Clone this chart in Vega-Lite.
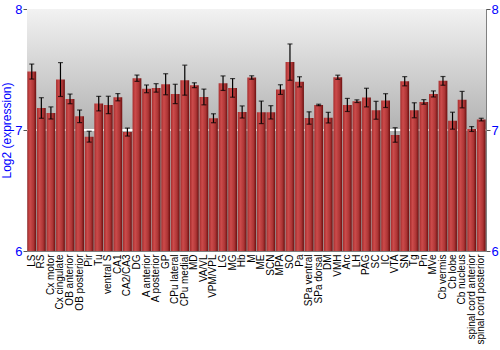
{
  "$schema": "https://vega.github.io/schema/vega-lite/v6.json",
  "autosize": "none",
  "width": 459,
  "height": 242,
  "padding": {"left": 27, "top": 9, "right": 14, "bottom": 99},
  "config": {
    "view": {"stroke": "#808080", "strokeWidth": 1},
    "font": "Liberation Sans"
  },
  "data": {
    "values": [
      {"region": "LS", "value": 7.483, "lo": 7.421, "hi": 7.545},
      {"region": "RS", "value": 7.182, "lo": 7.097, "hi": 7.267},
      {"region": "Cx motor", "value": 7.141, "lo": 7.091, "hi": 7.191},
      {"region": "Cx cingulate", "value": 7.417, "lo": 7.277, "hi": 7.557},
      {"region": "OB anterior", "value": 7.257, "lo": 7.217, "hi": 7.297},
      {"region": "OB posterior", "value": 7.113, "lo": 7.061, "hi": 7.165},
      {"region": "Pir", "value": 6.945, "lo": 6.9, "hi": 6.99},
      {"region": "Tu", "value": 7.218, "lo": 7.158, "hi": 7.278},
      {"region": "ventral S", "value": 7.207, "lo": 7.135, "hi": 7.279},
      {"region": "CA1", "value": 7.271, "lo": 7.241, "hi": 7.301},
      {"region": "CA2/CA3", "value": 6.983, "lo": 6.95, "hi": 7.016},
      {"region": "DG", "value": 7.428, "lo": 7.402, "hi": 7.454},
      {"region": "A anterior", "value": 7.34, "lo": 7.308, "hi": 7.372},
      {"region": "A posterior", "value": 7.348, "lo": 7.313, "hi": 7.383},
      {"region": "GP", "value": 7.378, "lo": 7.291, "hi": 7.465},
      {"region": "CPu lateral", "value": 7.298, "lo": 7.218, "hi": 7.378},
      {"region": "CPu medial", "value": 7.412, "lo": 7.288, "hi": 7.536},
      {"region": "MD", "value": 7.37, "lo": 7.35, "hi": 7.39},
      {"region": "VA/VL", "value": 7.273, "lo": 7.208, "hi": 7.338},
      {"region": "VPM/VPL", "value": 7.097, "lo": 7.06, "hi": 7.134},
      {"region": "LG", "value": 7.387, "lo": 7.327, "hi": 7.447},
      {"region": "MG", "value": 7.348, "lo": 7.271, "hi": 7.425},
      {"region": "Hb", "value": 7.149, "lo": 7.099, "hi": 7.199},
      {"region": "M", "value": 7.434, "lo": 7.42, "hi": 7.448},
      {"region": "ME", "value": 7.146, "lo": 7.053, "hi": 7.239},
      {"region": "SCN", "value": 7.146, "lo": 7.091, "hi": 7.201},
      {"region": "MPA", "value": 7.334, "lo": 7.294, "hi": 7.374},
      {"region": "SO", "value": 7.561, "lo": 7.411, "hi": 7.711},
      {"region": "Pa", "value": 7.398, "lo": 7.356, "hi": 7.44},
      {"region": "SPa ventral", "value": 7.099, "lo": 7.048, "hi": 7.15},
      {"region": "SPa dorsal", "value": 7.207, "lo": 7.201, "hi": 7.213},
      {"region": "DM", "value": 7.102, "lo": 7.058, "hi": 7.146},
      {"region": "VMH", "value": 7.436, "lo": 7.419, "hi": 7.453},
      {"region": "Arc", "value": 7.207, "lo": 7.153, "hi": 7.261},
      {"region": "LH", "value": 7.238, "lo": 7.227, "hi": 7.249},
      {"region": "PAG", "value": 7.268, "lo": 7.191, "hi": 7.345},
      {"region": "SC", "value": 7.163, "lo": 7.089, "hi": 7.237},
      {"region": "IC", "value": 7.243, "lo": 7.186, "hi": 7.3},
      {"region": "VTA", "value": 6.959, "lo": 6.899, "hi": 7.019},
      {"region": "SN", "value": 7.403, "lo": 7.365, "hi": 7.441},
      {"region": "Tg", "value": 7.163, "lo": 7.101, "hi": 7.225},
      {"region": "Pn", "value": 7.232, "lo": 7.213, "hi": 7.251},
      {"region": "MVe", "value": 7.298, "lo": 7.273, "hi": 7.323},
      {"region": "Cb vermis", "value": 7.406, "lo": 7.37, "hi": 7.442},
      {"region": "Cb lobe", "value": 7.077, "lo": 7.007, "hi": 7.147},
      {"region": "Cb nucleus", "value": 7.251, "lo": 7.183, "hi": 7.319},
      {"region": "spinal cord anterior", "value": 7.008, "lo": 6.988, "hi": 7.028},
      {"region": "spinal cord posterior", "value": 7.086, "lo": 7.075, "hi": 7.097}
    ]
  },
  "encoding": {
    "x": {
      "field": "region", "type": "nominal", "sort": null,
      "scale": {"paddingInner": 0.08, "paddingOuter": 0.04},
      "axis": {
        "title": null, "labelAngle": -90, "labelFontSize": 10, "labelColor": "#000000",
        "ticks": false, "domain": false, "labelPadding": 3, "labelLimit": 200
      }
    }
  },
  "layer": [
    {
      "mark": {
        "type": "rect",
        "fill": {
          "gradient": "linear", "x1": 0, "y1": 0, "x2": 0, "y2": 1,
          "stops": [
            {"offset": 0, "color": "#f2f2f2"},
            {"offset": 0.5, "color": "#b2b2b2"},
            {"offset": 1, "color": "#a0a0a0"}
          ]
        }
      },
      "encoding": {
        "x": null,
        "y": {"datum": 8, "type": "quantitative", "scale": {"domain": [6, 8]}, "axis": null},
        "y2": {"datum": 6}
      }
    },
    {
      "mark": {"type": "rule", "color": "#ffffff", "strokeWidth": 1.5},
      "encoding": {
        "x": null,
        "y": {"datum": 7, "type": "quantitative", "scale": {"domain": [6, 8]}, "axis": null}
      }
    },
    {
      "mark": {
        "type": "bar",
        "clip": true,
        "fill": {
          "gradient": "linear", "x1": 0, "y1": 0, "x2": 1, "y2": 0,
          "stops": [
            {"offset": 0, "color": "#a62c2c"},
            {"offset": 0.3, "color": "#cc4b4b"},
            {"offset": 0.7, "color": "#ad3535"},
            {"offset": 1, "color": "#6a0f0f"}
          ]
        }
      },
      "encoding": {
        "y": {
          "field": "value", "type": "quantitative",
          "scale": {"domain": [6, 8], "zero": false},
          "axis": {
            "title": "Log2 (expression)", "titleColor": "#0000ff", "titleFontSize": 12,
            "titleFontWeight": "normal", "titlePadding": 1,
            "values": [6, 7, 8], "format": ".0f", "labelColor": "#0000ff", "labelFontSize": 13,
            "labelOverlap": false, "labelFlush": false,
            "grid": false, "tickColor": "#555555", "tickSize": 4, "domainColor": "#808080",
            "labelPadding": 1
          }
        }
      }
    },
    {
      "mark": {"type": "rule", "color": "#000000", "strokeWidth": 1.2},
      "encoding": {
        "y": {"field": "lo", "type": "quantitative", "scale": {"domain": [6, 8]}, "axis": null},
        "y2": {"field": "hi"}
      }
    },
    {
      "mark": {"type": "tick", "color": "#000000", "size": 5, "thickness": 1.2},
      "encoding": {
        "y": {"field": "lo", "type": "quantitative", "scale": {"domain": [6, 8]}, "axis": null}
      }
    },
    {
      "mark": {"type": "tick", "color": "#000000", "size": 5, "thickness": 1.2},
      "encoding": {
        "y": {"field": "hi", "type": "quantitative", "scale": {"domain": [6, 8]}, "axis": null}
      }
    },
    {
      "mark": {"type": "rule", "opacity": 0},
      "encoding": {
        "x": null,
        "y": {
          "datum": 7, "type": "quantitative", "scale": {"domain": [6, 8]},
          "axis": {
            "orient": "right", "title": null, "values": [6, 7, 8], "format": ".0f", "labelColor": "#0000ff",
            "labelFontSize": 13, "labelOverlap": false, "labelFlush": false,
            "grid": false, "tickColor": "#555555", "tickSize": 4,
            "domainColor": "#808080", "labelPadding": 1
          }
        }
      }
    }
  ],
  "resolve": {"axis": {"y": "independent"}}
}
